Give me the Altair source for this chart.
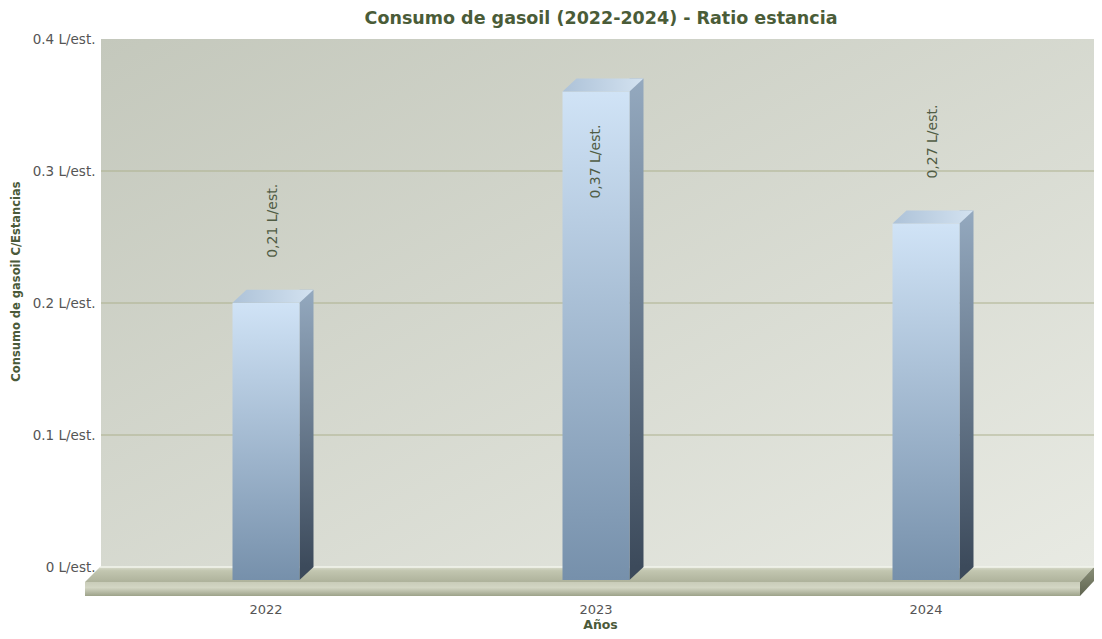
import altair as alt
import pandas as pd

# ---- data ----
years = ["2022", "2023", "2024"]
values = [0.21, 0.37, 0.27]
value_labels = ["0,21 L/est.", "0,37 L/est.", "0,27 L/est."]
y_ticks = [0, 0.1, 0.2, 0.3, 0.4]
grid_values = [0.1, 0.2, 0.3]

W, H = 990, 528
WALL_W = 993
DEPTH_X, DEPTH_Y = 14, 13
BAR_W = 67
FONT = "DejaVu Sans"

bars = pd.DataFrame({"year": years, "v": values, "label": value_labels})
grid = pd.DataFrame({"g": grid_values})
one = pd.DataFrame({"k": [0]})

yscale = alt.Scale(domain=[0, 0.4], nice=False, zero=True)
yaxis = alt.Axis(values=y_ticks, labelExpr="datum.value + ' L/est.'", grid=False,
                 ticks=False, domain=False, labelPadding=6, labelFont=FONT,
                 labelFontSize=13.5, labelColor="#555555",
                 title="Consumo de gasoil C/Estancias", titleFont=FONT,
                 titleFontSize=11.5, titleFontWeight="bold", titleColor="#4b5a39",
                 titleX=-85, titleY=242, titleAngle=-90, titleAlign="center",
                 titleBaseline="middle")
xscale = alt.Scale(paddingInner=0.5, paddingOuter=0.25)
xaxis = alt.Axis(ticks=False, domain=False, labelAngle=0, labelPadding=36,
                 labelFont=FONT, labelFontSize=13, labelColor="#555555",
                 title="Años", titleFont=FONT, titleFontSize=12.5,
                 titleFontWeight="bold", titleColor="#4b5a39",
                 titleX=499, titleY=61, titleBaseline="alphabetic")

def X():
    return alt.X("year:N", scale=xscale, axis=xaxis, sort=years)

def Y(field):
    return alt.Y(field, type="quantitative", scale=yscale, axis=yaxis)

def grad(stops, x2=0, y2=1):
    return alt.Gradient(gradient="linear",
                        stops=[alt.GradientStop(offset=o, color=c) for o, c in stops],
                        x1=0, y1=0, x2=x2, y2=y2)

# back wall
wall = alt.Chart(one).mark_rect(
    fill=grad([(0, "#c4c8bc"), (1, "#e8eae3")], x2=1, y2=1)
).encode(x=alt.value(0), x2=alt.value(WALL_W), y=alt.value(0), y2=alt.value(H))

gridlines = alt.Chart(grid).mark_rule(color="#adb18e", strokeWidth=1).encode(
    y=Y("g"), x=alt.value(0), x2=alt.value(WALL_W))

def floor_piece(path, fill):
    return alt.Chart(one).mark_point(shape=path, size=4, filled=True, fill=fill,
                                     opacity=1, strokeWidth=0).encode(
        x=alt.value(0), y=alt.value(H))

floor_top = floor_piece("M -1 0 L 993 0 L 979 15 L -16 15 Z",
                        grad([(0, "#d8dbcc"), (0.25, "#c2c6b0"), (1, "#aeb29b")]))
floor_front = floor_piece("M -16 15 L 979 15 L 979 29 L -16 29 Z",
                          grad([(0, "#c9ccb9"), (0.4, "#d3d6c4"), (1, "#9da289")]))
floor_side = floor_piece("M 979 15 L 993 0 L 993 14 L 979 29 Z",
                         grad([(0, "#8a8f78"), (1, "#5f6450")]))
floor_edge = alt.Chart(one).mark_rule(color="#f2f4ec", strokeWidth=1.5).encode(
    y=alt.value(H), x=alt.value(-1), x2=alt.value(WALL_W))

base = alt.Chart(bars)

side = base.mark_bar(size=DEPTH_X, xOffset=BAR_W / 2 + DEPTH_X / 2,
                     fill=grad([(0, "#94a9bf"), (1, "#3c4a5b")])).encode(
    x=X(), y=Y("v"), y2=alt.datum(0))

side_tri = base.mark_point(shape="M 33.5 0 L 47.5 0 L 33.5 13 Z", size=4, filled=True,
                           fill="#3c4a5b", opacity=1, strokeWidth=0).encode(
    x=X(), y=alt.datum(0))

front = base.mark_bar(size=BAR_W, yOffset=DEPTH_Y, y2Offset=DEPTH_Y,
                      fill=grad([(0, "#d0e3f6"), (1, "#7690ab")])).encode(
    x=X(), y=Y("v"), y2=alt.datum(0))

top = base.mark_point(shape="M -33.5 0 L 33.5 0 L 47.5 -13 L -19.5 -13 Z", size=4,
                      filled=True, opacity=1, strokeWidth=0, yOffset=DEPTH_Y,
                      fill=grad([(0, "#adc2d8"), (1, "#d3e2f0")], x2=1, y2=0)).encode(
    x=X(), y=Y("v"))

lab_out = base.transform_filter(alt.datum.v < 0.33).mark_text(
    angle=270, align="left", baseline="middle", xOffset=7, yOffset=DEPTH_Y - 45,
    font=FONT, fontSize=14, color="#505c44").encode(x=X(), y=Y("v"), text="label:N")

lab_in = base.transform_filter(alt.datum.v >= 0.33).mark_text(
    angle=270, align="right", baseline="middle", xOffset=0, yOffset=DEPTH_Y + 33,
    font=FONT, fontSize=14, color="#505c44").encode(x=X(), y=Y("v"), text="label:N")

chart = alt.layer(
    wall, gridlines, floor_top, floor_front, floor_side, floor_edge,
    side, side_tri, front, top, lab_out, lab_in
).properties(
    width=W, height=H,
    autosize=alt.AutoSizeParams(type="none"),
    padding={"left": 93, "top": 31, "right": 3, "bottom": 64},
    title=alt.TitleParams(text="Consumo de gasoil (2022-2024) - Ratio estancia",
                          font=FONT, fontSize=17.5, fontWeight="bold", color="#4a5c38",
                          anchor="middle", dx=5, offset=5),
).configure_view(stroke=None).configure(background="white")

chart.save("out.html", embed_options={"renderer": "svg", "actions": False})
